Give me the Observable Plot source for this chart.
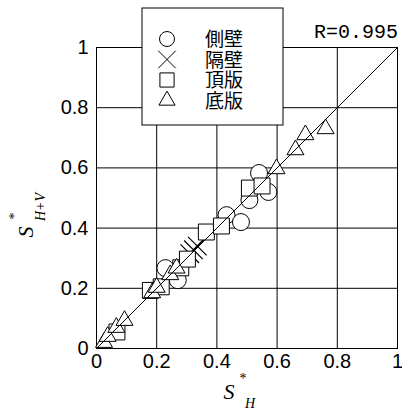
<!DOCTYPE html>
<html><head><meta charset="utf-8">
<script src="https://cdn.jsdelivr.net/npm/d3@7"></script>
<script src="https://cdn.jsdelivr.net/npm/@observablehq/plot@0.6"></script>
<style>body{margin:0;background:#fff}svg{overflow:visible}</style>
</head><body><div id="chart"></div>
<script>
// Series (legend order)
const seriesNames = ["側壁", "隔壁", "頂版", "底版"];
const seriesSymbols = ["circle", "times", "square", "triangle"];

// 側壁 (circles)
const wallX = [0.229, 0.27, 0.432, 0.48, 0.508, 0.54, 0.571];
const wallY = [0.267, 0.227, 0.443, 0.42, 0.493, 0.583, 0.52];
// 隔壁 (crosses)
const partX = [0.31, 0.322, 0.335];
const partY = [0.315, 0.328, 0.34];
// 頂版 (squares)
const topX = [0.068, 0.179, 0.215, 0.28, 0.302, 0.365, 0.415, 0.508, 0.55];
const topY = [0.055, 0.193, 0.205, 0.268, 0.297, 0.387, 0.407, 0.533, 0.54];
// 底版 (triangles)
const botX = [0.025, 0.037, 0.066, 0.093, 0.185, 0.2, 0.245, 0.266, 0.598, 0.661, 0.694, 0.761];
const botY = [0.02, 0.04, 0.07, 0.093, 0.185, 0.203, 0.245, 0.267, 0.597, 0.66, 0.71, 0.73];

const ticks = [0, 0.2, 0.4, 0.6, 0.8, 1];
const tickLabels = ["0", "0.2", "0.4", "0.6", "0.8", "1"];
const refX = [0, 1];
const refY = [0, 1];
const rText = "R=0.995";

const toRows = (xs, ys) => xs.map((x, i) => ({x, y: ys[i]}));
const wall = toRows(wallX, wallY);
const part = toRows(partX, partY);
const top_ = toRows(topX, topY);
const bot = toRows(botX, botY);
const ref = toRows(refX, refY);
const fmt = d => tickLabels[ticks.indexOf(d)] ?? String(d);

const chart = Plot.plot({
  width: 402, height: 412,
  marginLeft: 96, marginRight: 5, marginTop: 47, marginBottom: 64,
  style: {fontFamily: "'Liberation Sans', Arial, sans-serif", fontSize: "20px", color: "black", background: "white"},
  x: {domain: [0, 1]},
  y: {domain: [0, 1]},
  marks: [
    Plot.gridX(ticks, {stroke: "black", strokeOpacity: 1}),
    Plot.gridY(ticks, {stroke: "black", strokeOpacity: 1}),
    Plot.frame({stroke: "black"}),
    Plot.axisX(ticks, {tickSize: 0, tickPadding: 5, tickFormat: fmt, label: null, fill: "black"}),
    Plot.axisY(ticks, {tickSize: 0, tickPadding: 8, tickFormat: fmt, label: null, fill: "black"}),
    Plot.dot(wall, {x: "x", y: "y", symbol: "circle", r: 8.5, fill: "white", stroke: "black", strokeWidth: 1}),
    Plot.dot(part, {x: "x", y: "y", symbol: "times", r: 8.5, stroke: "black", strokeWidth: 1.2}),
    Plot.dot(top_, {x: "x", y: "y", symbol: "square", r: 9, fill: "white", stroke: "black", strokeWidth: 1}),
    Plot.dot(bot, {x: "x", y: "y", symbol: "triangle", r: 6.3, fill: "white", stroke: "black", strokeWidth: 1}),
    Plot.line(ref, {x: "x", y: "y", stroke: "black", strokeWidth: 1})
  ]
});
document.getElementById("chart").appendChild(chart);

const svg = d3.select(chart);
// R annotation
svg.append("text").attr("x", 398).attr("y", 38).attr("text-anchor", "end")
  .attr("font-family", "'Liberation Mono', monospace").attr("font-size", 20).attr("fill", "black").text(rText);

// Legend
const lg = svg.append("g");
lg.append("rect").attr("x", 142).attr("y", 8).attr("width", 141).attr("height", 117)
  .attr("fill", "white").attr("stroke", "black");
const legendSize = {circle: 7.5, times: 8, square: 8, triangle: 6};
const symMap = {circle: d3.symbolCircle, times: d3.symbolTimes, square: d3.symbolSquare, triangle: d3.symbolTriangle};
seriesNames.forEach((name, i) => {
  const cy = 39 + i * 20.5;
  const s = seriesSymbols[i];
  const r = legendSize[s];
  lg.append("path").attr("transform", `translate(167,${cy})`)
    .attr("d", d3.symbol(symMap[s], Math.PI * r * r)())
    .attr("fill", s === "times" ? "none" : "white").attr("stroke", "black");
  lg.append("text").attr("x", 224).attr("y", cy + 7)
    .attr("font-family", "'Noto Sans CJK JP', sans-serif").attr("font-size", 19).attr("fill", "black").text(name);
});

// X axis label S*_H
const xl = svg.append("g").attr("font-family", "'Liberation Serif', 'Times New Roman', serif").attr("fill", "black");
xl.append("text").attr("x", 229).attr("y", 399).attr("font-style", "italic").attr("font-size", 22).text("S");
xl.append("text").attr("x", 243).attr("y", 383).attr("font-size", 14).text("*");
xl.append("text").attr("x", 250).attr("y", 408).attr("font-style", "italic").attr("font-size", 14).text("H");

// Y axis label S*_{H+V}
const yl = svg.append("g").attr("transform", "translate(33,232) rotate(-90)")
  .attr("font-family", "'Liberation Serif', 'Times New Roman', serif").attr("fill", "black");
yl.append("text").attr("x", 0).attr("y", 0).attr("font-style", "italic").attr("font-size", 22).text("S");
yl.append("text").attr("x", 16).attr("y", -14).attr("font-size", 14).text("*");
yl.append("text").attr("x", 25).attr("y", 12).attr("font-style", "italic").attr("font-size", 14).text("H+V");
</script>
</body></html>
